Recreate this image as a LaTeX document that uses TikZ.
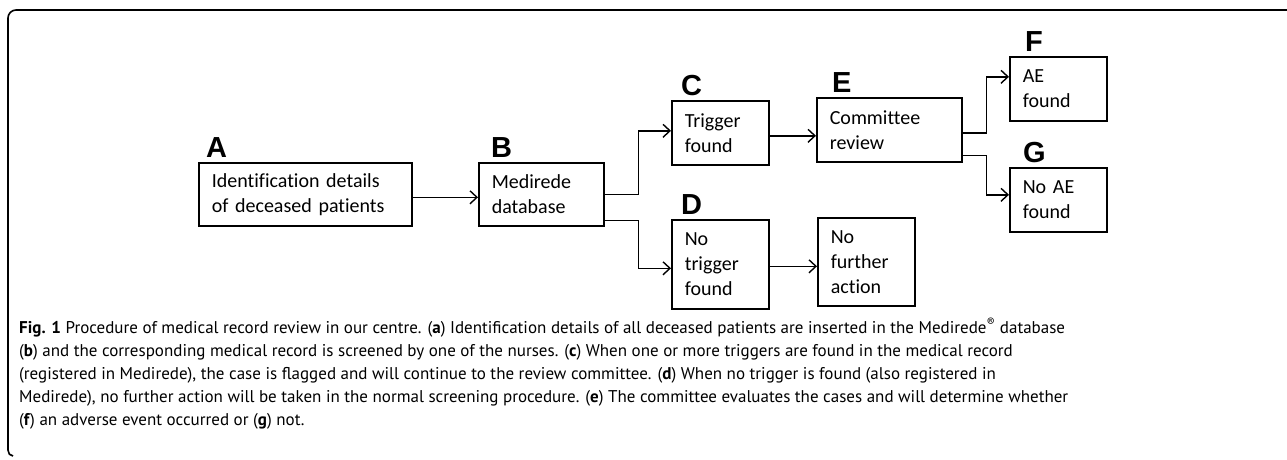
\documentclass[tikz,border=0pt]{standalone}
\usepackage{fontspec}
\setmainfont{Carlito}[Ligatures=NoCommon]
\newfontfamily\tagfont{Liberation Sans}
\newfontfamily\capfont{PT Sans}
\usetikzlibrary{calc,arrows.meta}
\newcommand\bw{71}
\newcommand\bh{64}
\newcommand\fork{34}

\begin{document}
\begin{tikzpicture}[x=1pt,y=-1pt,
	box/.style={draw,line width=1.6pt,anchor=north west,align=left,inner xsep=13pt,inner ysep=0pt,font=\fontsize{20}{25}\selectfont},
	tag/.style={anchor=south west,inner sep=0pt,font=\tagfont\bfseries\fontsize{29}{29}\selectfont},
	link/.style={line width=1.4pt,-{Straight Barb[length=7pt,width=13pt]}},
	frame/.style={line width=1.6pt}]
\useasboundingbox (0,0) rectangle (1287,459);
\draw [frame](1287,10) -- (16,10) to[out=180,in=90] (8,18) -- (8,450) to[out=-90,in=180] (13,456);

\node [box,text width=187,minimum height=63] (A) at (198,162) {Identification details\\of deceased patients};
\node [box,text width=99,minimum height=63] (B) at (478,162) {Medirede\\database};
\node [box,text width=\bw,minimum height=\bh] (C) at (671,100) {Trigger\\found};
\node [box,text width=\bw,minimum height=89] (D) at (671,219) {No\\trigger\\found};
\node [box,text width=\bw,minimum height=88] (N) at (817,217) {No\\further\\action};
\node [box,text width=119,minimum height=\bh] (E) at (816,97) {Committee\\review};
\node [box,text width=\bw,minimum height=\bh] (F) at (1009,56) {AE\\found};
\node [box,text width=\bw,minimum height=\bh] (G) at (1009,167) {No AE\\found};

\node [tag,xshift=8pt,yshift=4pt] (tA) at (A.north west) {A};
\node [tag,xshift=13pt,yshift=4pt] (tB) at (B.north west) {B};
\node [tag,xshift=10pt,yshift=4pt] (tC) at (C.north west) {C};
\node [tag,xshift=10pt,yshift=4pt] (tD) at (D.north west) {D};
\node [tag,xshift=16pt,yshift=4pt] (tE) at (E.north west) {E};
\node [tag,xshift=16pt,yshift=4pt] (tF) at (F.north west) {F};
\node [tag,xshift=14pt,yshift=4pt] (tG) at (G.north west) {G};

\draw [link]($(A.east)+(0,3)$) -- ($(B.west)+(0,3)$);
\draw [link](B.east) -- ++(\fork,0) |- ($(C.west)+(0,-2)$);
\draw [link]($(B.south east)+(0,-6)$) -- ++(\fork,0) |- ($(D.west)+(0,4)$);
\draw [link]($(C.east)+(0,3)$) -- ($(C.east -| E.west)+(0,3)$);
\draw [link]($(D.east)+(0,2)$) -- ($(D.east -| N.west)+(0,2)$);
\draw [link]($(E.east)+(0,3)$) -- ++(24,0) |- ($(F.west)+(0,-12)$);
\draw [link]($(E.south east)+(0,-7)$) -- ++(24,0) |- ($(G.west)+(0,-5)$);

\node [anchor=north west,inner sep=0pt,align=left,font=\capfont\fontsize{17}{23.2}\selectfont] (cap) at (19,318) {\textbf{Fig. 1} Procedure of medical record review in our centre. (\textbf{a}) Identification details of all deceased patients are inserted in the Medirede\textsuperscript{\textregistered} database\\(\textbf{b}) and the corresponding medical record is screened by one of the nurses. (\textbf{c}) When one or more triggers are found in the medical record\\(registered in Medirede), the case is flagged and will continue to the review committee. (\textbf{d}) When no trigger is found (also registered in\\Medirede), no further action will be taken in the normal screening procedure. (\textbf{e}) The committee evaluates the cases and will determine whether\\(\textbf{f}) an adverse event occurred or (\textbf{g}) not.};
\end{tikzpicture}
\end{document}
